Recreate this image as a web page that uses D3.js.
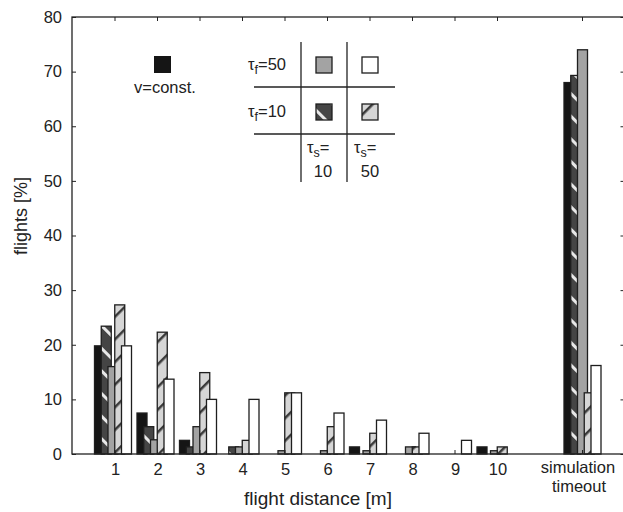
<!DOCTYPE html>
<html>
<head>
<meta charset="utf-8">
<script src="https://cdn.jsdelivr.net/npm/d3@7"></script>
<style>
  body { margin: 0; background: #fff; }
  svg { display: block; font-family: "Liberation Sans", Arial, sans-serif; }
</style>
</head>
<body>
<svg id="chart" width="623" height="512"></svg>
<script>
// categories along x (position 11 is left empty)
const categories = ["1", "2", "3", "4", "5", "6", "7", "8", "9", "10", "simulation timeout"];
const positions  = [1, 2, 3, 4, 5, 6, 7, 8, 9, 10, 12];
const yTicks     = [0, 10, 20, 30, 40, 50, 60, 70, 80];

// flights [%] per series
const vConst   = [19.8, 7.5, 2.5, 0,   0,    0,   1.3, 0,   0,   1.3, 68.0];
const tf10ts10 = [23.4, 5.0, 1.3, 1.3, 0,    0,   0,   0,   0,   0,   69.3];
const tf50ts10 = [16.0, 2.6, 5.0, 1.3, 0.6,  0.6, 0.6, 1.3, 0,   0.6, 74.0];
const tf10ts50 = [27.3, 22.3, 14.9, 2.5, 11.2, 5.0, 3.8, 1.3, 0,   1.3, 11.2];
const tf50ts50 = [19.8, 13.7, 10.0, 10.0, 11.2, 7.5, 6.2, 3.8, 2.5, 0,   16.2];

const seriesList = [
  { name: "vConst",   values: vConst,   fill: "#151515" },
  { name: "tf10ts10", values: tf10ts10, fill: "url(#darkHatch)" },
  { name: "tf50ts10", values: tf50ts10, fill: "#a3a3a3" },
  { name: "tf10ts50", values: tf10ts50, fill: "url(#lightHatch)" },
  { name: "tf50ts50", values: tf50ts50, fill: "#ffffff" }
];

const svg = d3.select("#chart");
const x = d3.scaleLinear().domain([0, 13]).range([72, 624.5]);
const y = d3.scaleLinear().domain([0, 80]).range([454, 17]);

// hatch patterns
const defs = svg.append("defs");
function hatch(id, bg, fg, angle, w) {
  const p = defs.append("pattern")
    .attr("id", id)
    .attr("patternUnits", "userSpaceOnUse")
    .attr("width", 16).attr("height", 16)
    .attr("patternTransform", `rotate(${angle})`);
  p.append("rect").attr("width", 16).attr("height", 16).attr("fill", bg);
  p.append("rect").attr("x", 0).attr("y", 0).attr("width", w).attr("height", 16).attr("fill", fg);
}
hatch("darkHatch", "#454545", "#e8e8e8", -45, 3);
hatch("lightHatch", "#d6d6d6", "#3a3a3a", 45, 2.5);

// bars, series drawn left to right so that each overlaps the previous one
const BAR_W = 10, STEP = 6.75;
seriesList.forEach((s, i) => {
  svg.append("g")
    .selectAll("rect")
    .data(s.values.map((v, j) => ({ v, pos: positions[j] })).filter(d => d.v > 0))
    .join("rect")
      .attr("x", d => x(d.pos) + (i - 2) * STEP - BAR_W / 2 - (d.pos === 12 ? -0.5 : 1.5))
      .attr("y", d => y(d.v))
      .attr("width", BAR_W)
      .attr("height", d => y(0) - y(d.v))
      .attr("fill", s.fill)
      .attr("stroke", "#1e1e1e")
      .attr("stroke-width", 1.3);
});

// frame with inward ticks
const frame = svg.append("g").attr("stroke", "#222").attr("stroke-width", 1.3).attr("fill", "none");
frame.append("rect")
  .attr("x", x(0)).attr("y", y(80))
  .attr("width", x(13) - x(0)).attr("height", y(0) - y(80));

const axisL = d3.axisLeft(y).tickValues(yTicks).tickSize(-4).tickPadding(10);
const axisR = d3.axisRight(y).tickValues(yTicks).tickSize(-4).tickFormat("");
const axisB = d3.axisBottom(x).tickValues(positions).tickSize(-4).tickFormat("");
const axisT = d3.axisTop(x).tickValues(positions).tickSize(-4).tickFormat("");

const gL = svg.append("g").attr("transform", `translate(${x(0)},0)`).call(axisL);
svg.append("g").attr("transform", `translate(${x(13)},0)`).call(axisR);
svg.append("g").attr("transform", `translate(0,${y(0)})`).call(axisB);
svg.append("g").attr("transform", `translate(0,${y(80)})`).call(axisT);
svg.selectAll(".domain").remove();
svg.selectAll(".tick line").attr("stroke", "#222").attr("stroke-width", 1);
gL.selectAll("text").attr("font-size", 16.5).attr("fill", "#222")
  .attr("font-family", "Liberation Sans, Arial, sans-serif");

// x tick labels
const xl = svg.append("g").attr("font-size", 16.5).attr("fill", "#222").attr("text-anchor", "middle");
categories.forEach((c, j) => {
  const t = xl.append("text");
  if (j === 10) {
    t.append("tspan").attr("x", x(positions[j]) - 4).attr("y", 473).text("simulation");
    t.append("tspan").attr("x", x(positions[j]) - 3).attr("y", 492).text("timeout");
  } else {
    t.attr("x", x(positions[j]) + 1).attr("y", 475).text(c);
  }
});

// axis labels
svg.append("text")
  .attr("x", 318).attr("y", 505)
  .attr("text-anchor", "middle").attr("font-size", 19).attr("fill", "#222")
  .text("flight distance [m]");
svg.append("text")
  .attr("transform", "translate(27,216) rotate(-90)")
  .attr("text-anchor", "middle").attr("font-size", 18).attr("fill", "#222")
  .text("flights [%]");

// legend
const lg = svg.append("g").attr("font-size", 16.5).attr("fill", "#222");
lg.append("rect").attr("x", 154).attr("y", 56).attr("width", 17).attr("height", 17)
  .attr("fill", "#151515");
lg.append("text").attr("x", 165).attr("y", 93).attr("text-anchor", "middle").text("v=const.");

const grid = lg.append("g").attr("stroke", "#222").attr("stroke-width", 1.3);
grid.append("line").attr("x1", 301).attr("x2", 301).attr("y1", 42).attr("y2", 182);
grid.append("line").attr("x1", 347).attr("x2", 347).attr("y1", 42).attr("y2", 182);
grid.append("line").attr("x1", 254).attr("x2", 395).attr("y1", 87).attr("y2", 87);
grid.append("line").attr("x1", 254).attr("x2", 395).attr("y1", 134).attr("y2", 134);

const legendCells = [
  { x: 316, y: 57,  fill: "#a3a3a3" },
  { x: 362, y: 57,  fill: "#ffffff" },
  { x: 316, y: 104, fill: "url(#darkHatch)" },
  { x: 362, y: 104, fill: "url(#lightHatch)" }
];
lg.selectAll("rect.cell").data(legendCells).join("rect")
  .attr("class", "cell")
  .attr("x", d => d.x).attr("y", d => d.y)
  .attr("width", 16).attr("height", 16)
  .attr("fill", d => d.fill)
  .attr("stroke", "#1e1e1e").attr("stroke-width", 1.3);

function tauLabel(px, py, sub, rest) {
  const t = lg.append("text").attr("x", px).attr("y", py);
  t.append("tspan").text("\u03c4");
  t.append("tspan").attr("font-size", 12.5).attr("dy", 4).text(sub);
  t.append("tspan").attr("dy", -4).text(rest);
  return t;
}
tauLabel(248, 70, "f", "=50");
tauLabel(248, 117, "f", "=10");
tauLabel(307, 153, "s", "=");
tauLabel(354, 153, "s", "=");
lg.append("text").attr("x", 323).attr("y", 177).attr("text-anchor", "middle").text("10");
lg.append("text").attr("x", 370).attr("y", 177).attr("text-anchor", "middle").text("50");
</script>
</body>
</html>
